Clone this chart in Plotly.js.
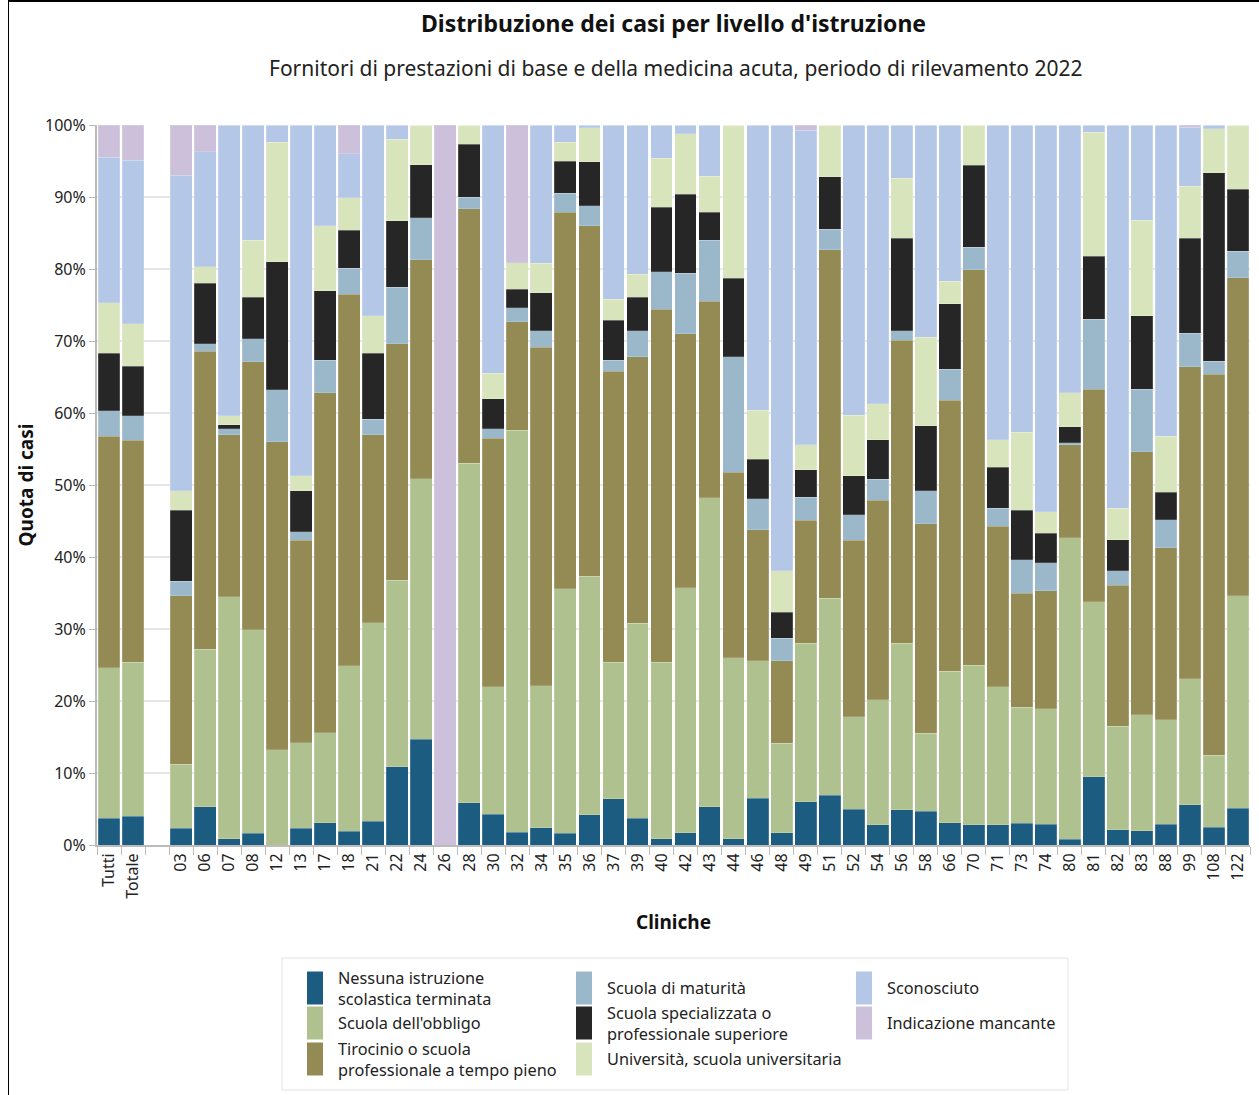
<!DOCTYPE html>
<html><head><meta charset="utf-8">
<script src="https://cdn.plot.ly/plotly-3.0.1.min.js"></script>
<style>html,body{margin:0;padding:0;background:#fff;}#wrap{position:relative;width:1259px;height:1095px;}#frame{position:absolute;left:8px;top:0;width:1251px;height:1095px;border-left:1px solid #000;border-top:2px solid #000;box-sizing:border-box;pointer-events:none;}</style>
</head><body><div id="wrap"><div id="chart" style="width:1259px;height:1095px;"></div><div id="frame"></div></div>
<script>
const categories = ["Tutti","Totale"," ","03","06","07","08","12","13","17","18","21","22","24","26","28","30","32","34","35","36","37","39","40","42","43","44","46","48","49","51","52","54","56","58","66","70","71","73","74","80","81","82","83","88","99","108","122"];

const nessuna      = [3.7,4.0,null,2.3,5.3,0.9,1.6,0,2.3,3.1,1.9,3.3,10.9,14.7,0,5.9,4.3,1.8,2.4,1.6,4.2,6.4,3.7,0.9,1.7,5.3,0.9,6.5,1.7,6.0,6.9,5.0,2.8,4.9,4.7,3.1,2.8,2.8,3.0,2.9,0.8,9.5,2.1,2.0,2.9,5.6,2.5,5.1];
const obbligo      = [20.9,21.4,null,8.9,21.9,33.6,28.3,13.2,11.9,12.5,23.0,27.6,25.9,36.2,0,47.1,17.7,55.8,19.7,34.0,33.1,19.0,27.1,24.5,34.0,42.9,25.1,19.1,12.4,22.0,27.4,12.8,17.4,23.1,10.8,21.0,22.2,19.2,16.1,16.0,41.9,24.3,14.4,16.1,14.5,17.5,10.0,29.5];
const tirocinio    = [32.2,30.8,null,23.4,41.4,22.5,37.2,42.8,28.1,47.2,51.6,26.1,32.8,30.4,0,35.4,34.5,15.1,47.0,52.3,48.7,40.4,37.0,49.0,35.3,27.3,25.8,18.2,11.5,17.1,48.4,24.5,27.7,42.1,29.1,37.7,54.9,22.3,15.9,16.4,12.9,29.5,19.6,36.5,23.9,43.3,52.9,44.2];
const maturita     = [3.5,3.4,null,2.0,1.0,0.8,3.2,7.2,1.2,4.5,3.6,2.1,7.9,5.8,0,1.6,1.3,1.9,2.3,2.6,2.8,1.5,3.6,5.2,8.4,8.5,16.0,4.3,3.1,3.2,2.8,3.6,2.9,1.3,4.6,4.3,3.1,2.5,4.6,3.9,0.3,9.7,2.0,8.7,3.9,4.7,1.8,3.7];
const specializzata= [8.0,6.9,null,9.9,8.4,0.6,5.8,17.8,5.7,9.7,5.3,9.2,9.2,7.4,0,7.3,4.2,2.6,5.3,4.5,6.1,5.6,4.7,9.0,11.0,3.9,10.9,5.5,3.6,3.8,7.3,5.4,5.5,12.9,9.0,9.1,11.4,5.7,6.9,4.1,2.2,8.8,4.3,10.2,3.8,13.2,26.2,8.6];
const universita   = [7.0,5.9,null,2.7,2.3,1.2,7.9,16.6,2.1,9.0,4.5,5.2,11.3,5.5,0,2.7,3.5,3.7,4.1,2.6,4.7,2.9,3.2,6.8,8.4,5.0,21.3,6.8,5.8,3.5,7.2,8.4,5.0,8.3,12.3,3.1,5.6,3.8,10.8,3.0,4.7,17.2,4.4,13.3,7.8,7.2,6.1,8.9];
const sconosciuto  = [20.2,22.7,null,43.8,16.0,40.4,16.0,2.4,48.7,14.0,6.1,26.5,2.0,0,0,0,34.5,0,19.2,2.4,0.4,24.2,20.7,4.6,1.2,7.1,0,39.6,61.9,43.7,0,40.3,38.7,7.4,29.5,21.7,0,43.7,42.7,53.7,37.2,1.0,53.2,13.2,43.2,8.2,0.5,0];
const mancante     = [4.5,4.9,null,7.0,3.7,0,0,0,0,0,4.0,0,0,0,100,0,0,19.1,0,0,0,0,0,0,0,0,0,0,0,0.7,0,0,0,0,0,0,0,0,0,0,0,0,0,0,0,0.3,0,0];

const seriesNames = ["Nessuna istruzione<br>scolastica terminata","Scuola dell'obbligo","Tirocinio o scuola<br>professionale a tempo pieno","Scuola di maturità","Scuola specializzata o<br>professionale superiore","Università, scuola universitaria","Sconosciuto","Indicazione mancante"];
const seriesValues = [nessuna,obbligo,tirocinio,maturita,specializzata,universita,sconosciuto,mancante];
const seriesColors = ["#1b5c80","#b0c190","#948a54","#9ab8ca","#262626","#d8e4bc","#b4c7e7","#ccc0da"];

const FONT = "Noto Sans, Open Sans, sans-serif";
const M = {l:97, r:9, t:125, b:250};
const W = 1259, H = 1095;
const PW = W - M.l - M.r, PH = H - M.t - M.b;
const px2x = px => (px - M.l) / PW;
const py2y = py => (H - M.b - py) / PH;

const traces = seriesValues.map((v,i)=>({
  type:'bar', name:seriesNames[i].replace('<br>',' '), x:categories, y:v,
  marker:{color:seriesColors[i], line:{color:'rgba(255,255,255,0.35)', width:0.5}},
  showlegend:false,
  hovertemplate:'%{x}: %{y:.1f}%<extra></extra>'
}));

// custom legend (3 columns, column-major like the reference)
const legCols = [307, 576, 856];
const legRows = [988, 1023, 1059];
const shapes = [{type:'rect', xref:'paper', yref:'paper', x0:px2x(282), x1:px2x(1068), y0:py2y(1090), y1:py2y(958), line:{color:'#e4e4e4', width:1}, fillcolor:'rgba(0,0,0,0)'}];
const annotations = [{text:"Fornitori di prestazioni di base e della medicina acuta, periodo di rilevamento 2022", xref:'paper', yref:'paper', x:0.502, y:py2y(68), xanchor:'center', yanchor:'middle', showarrow:false, font:{size:21, family:FONT, color:'#222'}}];
seriesNames.forEach((n,i)=>{
  const c = Math.floor(i/3), r = i%3;
  const cx = legCols[c], cy = legRows[r];
  shapes.push({type:'rect', xref:'paper', yref:'paper', x0:px2x(cx), x1:px2x(cx+16), y0:py2y(cy+16.5), y1:py2y(cy-16.5), line:{width:0}, fillcolor:seriesColors[i]});
  annotations.push({text:n, xref:'paper', yref:'paper', x:px2x(cx+29), y:py2y(cy), xanchor:'left', yanchor:'middle', align:'left', showarrow:false, font:{size:16.3, family:FONT, color:'#222'}});
});

const layout = {
  width:W, height:H,
  font:{family:FONT, color:'#222', size:15},
  barmode:'stack', bargap:0.09,
  paper_bgcolor:'#fff', plot_bgcolor:'#fff',
  margin:Object.assign({autoexpand:false}, M),
  title:{text:"<b>Distribuzione dei casi per livello d'istruzione</b>", font:{size:23, family:FONT, color:'#111'}, x:0.535, xanchor:'center', y:0.978, yanchor:'middle', yref:'container'},
  annotations:annotations, shapes:shapes,
  xaxis:{type:'category', categoryorder:'array', categoryarray:categories, tickangle:-90, tickson:'boundaries', ticks:'outside', ticklen:8, tickcolor:'#bbb', showline:true, linecolor:'#bbb', linewidth:2, tickfont:{size:16, family:FONT, color:'#222'},
    title:{text:"<b>Cliniche</b>", font:{size:19, family:FONT, color:'#111'}, standoff:18}},
  yaxis:{range:[0,100], dtick:10, ticksuffix:'%', showgrid:true, gridcolor:'#e6e6e6', gridwidth:1.5, showline:true, linecolor:'#bbb', linewidth:2, ticks:'outside', ticklen:6, tickcolor:'#bbb', zeroline:false, tickfont:{size:16, family:FONT, color:'#222'},
    title:{text:"<b>Quota di casi</b>", font:{size:19, family:FONT, color:'#111'}, standoff:6}},
  showlegend:false
};

Plotly.newPlot('chart', traces, layout, {displayModeBar:false, responsive:false});
</script></body></html>
